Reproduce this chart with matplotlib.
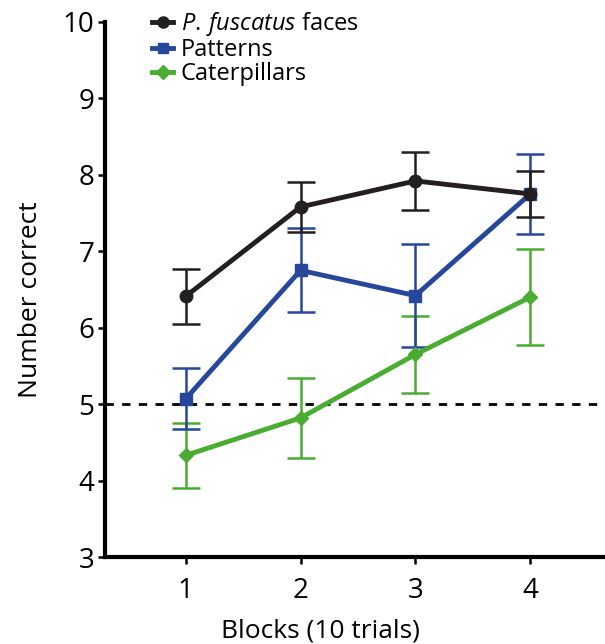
import matplotlib
matplotlib.use("Agg")
import matplotlib.pyplot as plt
from matplotlib.lines import Line2D

plt.rcParams['font.family'] = ['Open Sans', 'DejaVu Sans']
plt.rcParams['mathtext.fontset'] = 'custom'
plt.rcParams['mathtext.it'] = 'Open Sans:italic'
plt.rcParams['mathtext.rm'] = 'Open Sans'

blocks = [1, 2, 3, 4]

faces_mean = [6.41, 7.58, 7.92, 7.75]
faces_err = [0.36, 0.33, 0.38, 0.30]

patterns_mean = [5.07, 6.75, 6.42, 7.75]
patterns_err = [0.40, 0.55, 0.67, 0.52]

cater_mean = [4.33, 4.82, 5.65, 6.40]
cater_err = [0.43, 0.52, 0.50, 0.63]

BLACK = "#231f20"
BLUE = "#26479a"
GREEN = "#4aac32"

fig = plt.figure(figsize=(6.05, 6.44), dpi=100)
ax = fig.add_axes([0.174, 0.135, 0.826, 0.831])

ax.axhline(5, color="black", linestyle=(0, (3, 3)), linewidth=2, zorder=1)

series = [
    (cater_mean, cater_err, GREEN, "D", 7),
    (patterns_mean, patterns_err, BLUE, "s", 8),
    (faces_mean, faces_err, BLACK, "o", 9),
]
for mean, err, col, mk, ms in series:
    ax.errorbar(blocks, mean, yerr=err, color=col, marker=mk, markersize=ms,
                linewidth=3.5, elinewidth=1.8, capsize=10, capthick=1.8, zorder=3)

ax.set_xlim(0.3, 4.65)
ax.set_ylim(3, 10)
ax.set_xticks(blocks)
ax.set_yticks(range(3, 11))

for s in ["top", "right"]:
    ax.spines[s].set_visible(False)
for s in ["left", "bottom"]:
    ax.spines[s].set_linewidth(3)
ax.tick_params(direction="out", length=5, width=1.8, labelsize=20)
ax.tick_params(axis="x", pad=9)
ax.tick_params(axis="y", pad=3)

ax.set_xlabel("Blocks (10 trials)", fontsize=19)
ax.xaxis.set_label_coords(0.43, -0.115)
ax.set_ylabel("Number correct", fontsize=19)
ax.yaxis.set_label_coords(-0.125, 0.48)

handles = [
    Line2D([], [], color=BLACK, marker="o", markersize=8, linewidth=3.5),
    Line2D([], [], color=BLUE, marker="s", markersize=7, linewidth=3.5),
    Line2D([], [], color=GREEN, marker="D", markersize=7, linewidth=3.5),
]
labels = [r"$\it{P.\,fuscatus}$ faces", "Patterns", "Caterpillars"]
ax.legend(handles, labels, loc="upper left", bbox_to_anchor=(0.075, 1.04),
          frameon=False, fontsize=17, handlelength=0.9, handletextpad=0.3,
          labelspacing=0.0, borderaxespad=0)

fig.savefig("out.png", dpi=100)
